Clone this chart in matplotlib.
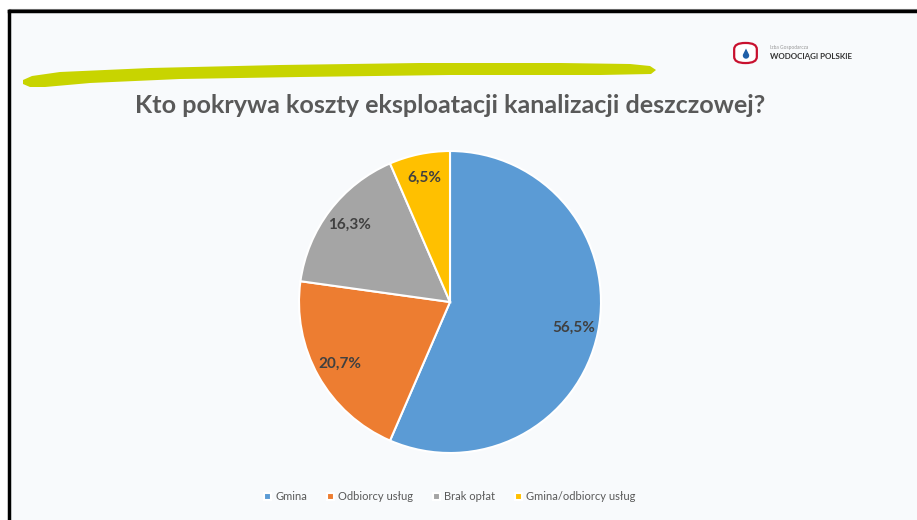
import matplotlib
matplotlib.use("Agg")
import numpy as np
import matplotlib.pyplot as plt
from matplotlib.patches import Polygon, FancyBboxPatch
from matplotlib.lines import Line2D

labels = ["Gmina", "Odbiorcy usług", "Brak opłat", "Gmina/odbiorcy usług"]
values = [56.5, 20.7, 16.3, 6.5]
colors = ["#5b9bd5", "#ed7d31", "#a5a5a5", "#ffc000"]
title = "Kto pokrywa koszty eksploatacji kanalizacji deszczowej?"

W, H = 917, 520
plt.rcParams["font.family"] = ["Lato", "DejaVu Sans"]


def px(x, y):
    return (x / W, 1 - y / H)


fig = plt.figure(figsize=(W / 100, H / 100), dpi=100)
fig.patch.set_facecolor("white")

# slide background
fig.add_artist(Polygon([px(9, 11), px(917, 11), px(917, 520), px(9, 520)],
                       closed=True, transform=fig.transFigure,
                       facecolor="#f8fafc", edgecolor="none", zorder=-10))
# slide frame (top and left)
fig.add_artist(Line2D([9 / W, 1], [1 - 9 / H] * 2, color="#888888", lw=0.8,
                      transform=fig.transFigure, zorder=-5))
fig.add_artist(Line2D([8.5 / W, 1], [1 - 11 / H] * 2, color="black", lw=2.5,
                      transform=fig.transFigure, zorder=-5))
fig.add_artist(Line2D([8.5 / W] * 2, [1 - 11 / H, 0], color="black", lw=2.5,
                      transform=fig.transFigure, zorder=-5))

# green brush stroke
top = [(23, 80), (32, 76), (60, 72), (150, 68), (280, 65), (420, 63),
       (560, 63), (630, 64), (650, 66), (656, 70)]
bot = [(651, 74), (600, 75), (450, 75), (300, 77), (180, 79), (90, 83),
       (45, 87), (30, 87), (23, 84)]
fig.add_artist(Polygon([px(*p) for p in top + bot], closed=True,
                       transform=fig.transFigure, facecolor="#c8d400",
                       edgecolor="none", zorder=-5))

# logo
fig.add_artist(FancyBboxPatch(px(736, 62), 19 / W, 18 / H,
                              boxstyle="round,pad=0.002,rounding_size=0.012",
                              transform=fig.transFigure, facecolor="white",
                              edgecolor="#c8102e", lw=1.6))
drop = [(746, 48.5)] + [(746 + 3.2 * np.cos(a), 55.5 + 3.2 * np.sin(a))
                        for a in np.linspace(-0.3, np.pi + 0.3, 20)]
fig.add_artist(Polygon([px(*p) for p in drop], closed=True,
                       transform=fig.transFigure, facecolor="#1f5fa8",
                       edgecolor="none"))
fig.text(770 / W, 1 - 47 / H, "Izba Gospodarcza", color="#999999",
         fontsize=3.5, ha="left", va="center")
fig.text(770 / W, 1 - 56 / H, "WODOCIĄGI POLSKIE", color="#333333",
         fontsize=5.8, fontweight="bold", ha="left", va="center")

fig.text(450 / W, 1 - 106 / H, title, color="#595959", fontsize=18.1,
         fontweight="bold", ha="center", va="center")

ax = fig.add_axes([299 / W, 67 / H, 302 / W, 302 / H])
wedges, texts, autotexts = ax.pie(
    values, colors=colors, startangle=90, counterclock=False,
    autopct=lambda p: f"{p:.1f}%".replace(".", ","), pctdistance=0.84,
    wedgeprops=dict(edgecolor="white", linewidth=1.5))
for t in autotexts:
    t.set_color("#404040")
    t.set_fontweight("bold")
    t.set_fontsize(11)
ax.set_xlim(-1, 1)
ax.set_ylim(-1, 1)
ax.set_aspect("equal")

fig.legend(wedges, labels, loc="center", bbox_to_anchor=(450 / W, 1 - 497 / H),
           ncol=4, frameon=False, fontsize=8, labelcolor="#595959",
           handlelength=0.6, handleheight=0.6, handletextpad=0.4,
           columnspacing=1.8)

fig.savefig("out.png", dpi=100, facecolor=fig.get_facecolor())
